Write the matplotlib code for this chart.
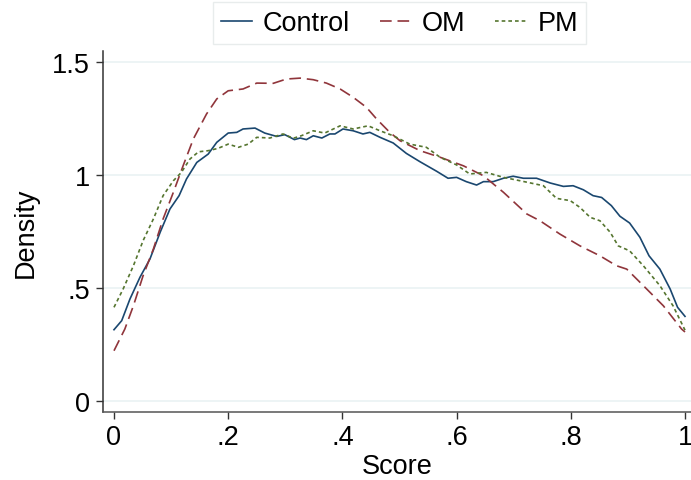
import matplotlib
matplotlib.use("Agg")
import matplotlib.pyplot as plt

plt.rcParams['font.family'] = ['Liberation Sans', 'DejaVu Sans']

# Control (solid navy)
ctrl_x = [0.0, 0.0135, 0.028, 0.0455, 0.063, 0.081, 0.098, 0.114, 0.127, 0.145, 0.165, 0.18,
          0.2, 0.215, 0.226, 0.247, 0.264, 0.285, 0.299, 0.316, 0.326, 0.337, 0.349, 0.364,
          0.378, 0.387, 0.401, 0.419, 0.436, 0.448, 0.466, 0.489, 0.512, 0.536, 0.565, 0.585,
          0.6, 0.617, 0.635, 0.647, 0.664, 0.682, 0.699, 0.717, 0.74, 0.764, 0.787, 0.804,
          0.822, 0.839, 0.854, 0.871, 0.886, 0.903, 0.921, 0.937, 0.956, 0.974, 0.987, 1.0]
ctrl_y = [0.317, 0.357, 0.453, 0.549, 0.63, 0.749, 0.851, 0.91, 0.984, 1.057, 1.094, 1.146,
          1.187, 1.19, 1.205, 1.209, 1.187, 1.172, 1.18, 1.158, 1.165, 1.158, 1.175, 1.165,
          1.183, 1.183, 1.205, 1.197, 1.183, 1.19, 1.168, 1.143, 1.097, 1.06, 1.018, 0.987,
          0.991, 0.972, 0.957, 0.972, 0.972, 0.987, 0.996, 0.987, 0.987, 0.966, 0.951, 0.954,
          0.936, 0.91, 0.902, 0.866, 0.819, 0.789, 0.726, 0.644, 0.585, 0.497, 0.416, 0.376]

# OM (dashed maroon)
om_x = [0.0, 0.019, 0.034, 0.051, 0.069, 0.086, 0.104, 0.121, 0.139, 0.162, 0.18, 0.2,
        0.226, 0.25, 0.279, 0.302, 0.326, 0.349, 0.372, 0.396, 0.419, 0.442, 0.46, 0.483,
        0.501, 0.536, 0.571, 0.612, 0.647, 0.682, 0.723, 0.746, 0.781, 0.816, 0.851, 0.88,
        0.898, 0.927, 0.962, 0.994, 1.0]
om_y = [0.224, 0.32, 0.423, 0.556, 0.674, 0.807, 0.925, 1.042, 1.161, 1.271, 1.338, 1.374,
        1.382, 1.408, 1.407, 1.426, 1.43, 1.423, 1.408, 1.382, 1.345, 1.301, 1.249, 1.19,
        1.153, 1.109, 1.08, 1.042, 0.998, 0.925, 0.829, 0.799, 0.74, 0.688, 0.644, 0.6,
        0.585, 0.512, 0.423, 0.32, 0.307]

# PM (short-dashed green)
pm_x = [0.0, 0.016, 0.034, 0.051, 0.069, 0.086, 0.104, 0.118, 0.133, 0.148, 0.165, 0.182,
        0.2, 0.218, 0.235, 0.25, 0.273, 0.296, 0.314, 0.328, 0.349, 0.369, 0.396, 0.419,
        0.445, 0.466, 0.489, 0.518, 0.547, 0.571, 0.6, 0.623, 0.652, 0.682, 0.711, 0.752,
        0.775, 0.799, 0.816, 0.834, 0.851, 0.869, 0.883, 0.903, 0.927, 0.956, 0.979, 1.0]
pm_y = [0.416, 0.497, 0.6, 0.711, 0.807, 0.91, 0.976, 1.013, 1.072, 1.104, 1.109, 1.119,
        1.138, 1.124, 1.138, 1.168, 1.165, 1.183, 1.164, 1.175, 1.197, 1.187, 1.219, 1.205,
        1.219, 1.197, 1.175, 1.138, 1.124, 1.08, 1.046, 1.006, 1.013, 0.991, 0.976, 0.954,
        0.898, 0.888, 0.858, 0.814, 0.799, 0.748, 0.688, 0.666, 0.6, 0.512, 0.423, 0.315]

x_ticks = [0, 0.2, 0.4, 0.6, 0.8, 1.0]
x_labels = ['0', '.2', '.4', '.6', '.8', '1']
y_ticks = [0, 0.5, 1.0, 1.5]
y_labels = ['0', '.5', '1', '1.5']

fig = plt.figure(figsize=(6.91, 4.81), dpi=100)
ax = fig.add_axes([0.1486, 0.1414, 0.8514, 0.7505])

ax.plot(ctrl_x, ctrl_y, color='#1a476f', lw=1.2, label='Control')
ax.plot(om_x, om_y, color='#90353b', lw=1.2, dashes=(7, 3.5), label='OM')
ax.plot(pm_x, pm_y, color='#55752f', lw=1.2, dashes=(2.2, 1.8), label='PM')

ax.set_xlim(-0.0198, 1.0105)
ax.set_ylim(-0.047, 1.55)
ax.set_xticks(x_ticks)
ax.set_xticklabels(x_labels)
ax.set_yticks(y_ticks)
ax.set_yticklabels(y_labels)
ax.tick_params(labelsize=19.5, length=5, width=1, color='#333333', pad=4)
ax.yaxis.grid(True, color='#eaf2f3', lw=1.2)
ax.set_axisbelow(True)

for s in ['top', 'right']:
    ax.spines[s].set_visible(False)
ax.spines['left'].set_color('#333333')
ax.spines['bottom'].set_color('#555555')
ax.spines['left'].set_linewidth(1.1)
ax.spines['bottom'].set_linewidth(1.1)

ax.set_xlabel('Score', fontsize=19.5, labelpad=2)
ax.set_ylabel('Density', fontsize=19.5, labelpad=10)

leg = fig.legend(loc='center', bbox_to_anchor=(0.578, 0.95), ncol=3, fontsize=19.5,
                 handlelength=1.15, handletextpad=0.4, columnspacing=1.1,
                 frameon=True, fancybox=False, borderpad=0.3)
leg.get_frame().set_edgecolor('#e3e8e8')
leg.get_frame().set_linewidth(1.0)

fig.savefig('out.png', dpi=100)
